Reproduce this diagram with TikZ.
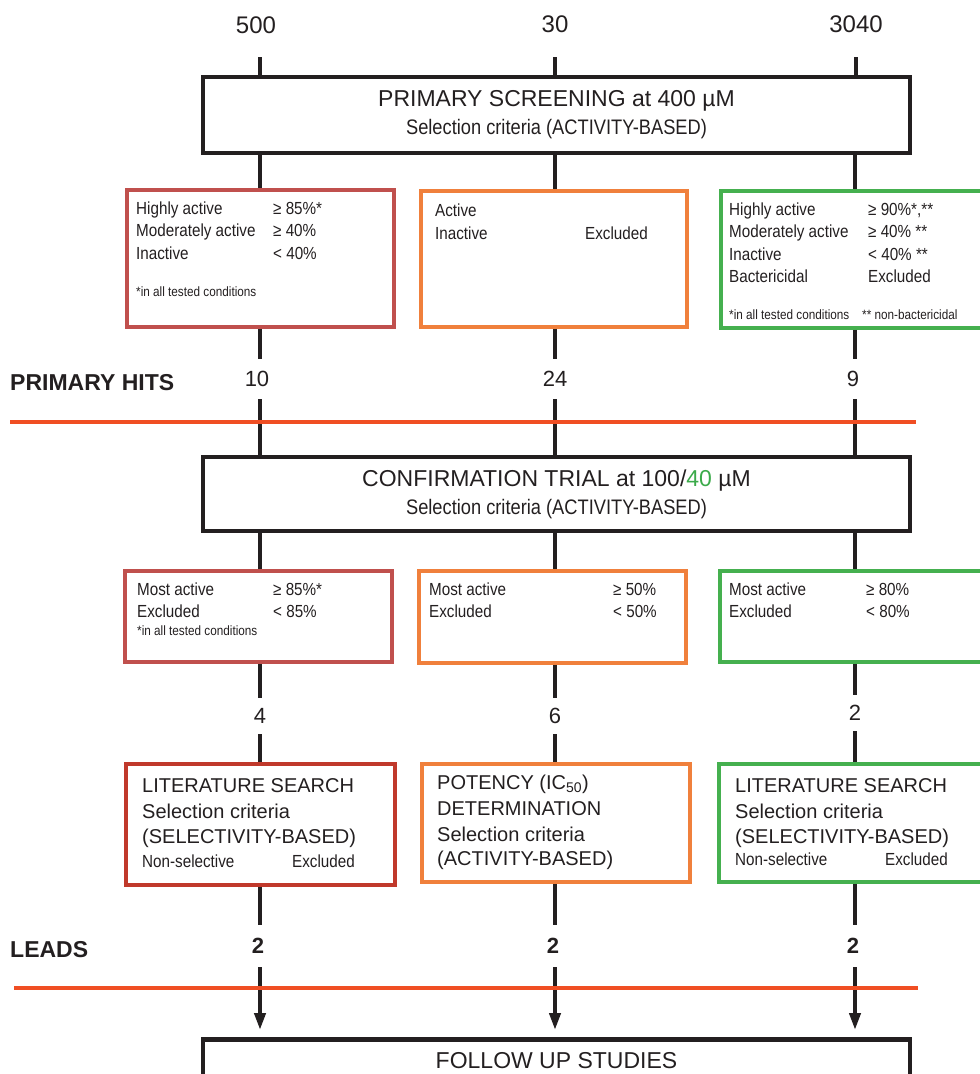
\documentclass[tikz,border=0pt]{standalone}
\usepackage{fontspec}
\setmainfont{Liberation Sans}
\newfontfamily\narrow[FakeStretch=0.87]{Liberation Sans}
\usetikzlibrary{arrows.meta}
\definecolor{ink}{HTML}{231F20}
\definecolor{cred}{HTML}{C0504D}
\definecolor{cdred}{HTML}{C0392B}
\definecolor{corange}{HTML}{F0803C}
\definecolor{cgreen}{HTML}{45B04F}
\definecolor{cline}{HTML}{F04E23}
\definecolor{tgreen}{HTML}{3BAA4A}
\newcommand{\bxfont}{\narrow\fontsize{17.5}{22.5}\selectfont}
\newcommand{\smfont}{\narrow\fontsize{13.5}{16}\selectfont}
\newcommand{\ttlfont}{\fontsize{23}{28}\selectfont}
\newcommand{\hdfont}{\fontsize{20}{25}\selectfont}
\begin{document}
\begin{tikzpicture}[x=1pt,y=-1pt,
  every node/.style={text=ink, inner sep=0pt},
  bigbox/.style={draw=ink, line width=4.5pt, minimum width=707pt, align=center, font=\ttlfont},
  cbox/.style={line width=3.5pt},
  vline/.style={draw=ink, line width=4pt},
  hline/.style={draw=cline, line width=4pt},
  num/.style={font=\fontsize{22}{26}\selectfont, minimum height=40pt},
  bnum/.style={font=\fontsize{22}{26}\selectfont\bfseries, minimum height=42pt},
  topnum/.style={font=\fontsize{24}{28}\selectfont},
  lbl/.style={font=\fontsize{23}{26}\selectfont\bfseries, anchor=west},
  bt/.style={font=\bxfont, anchor=base west},
  st/.style={font=\smfont, anchor=base west},
  ht/.style={font=\hdfont, anchor=base west},
  arr/.style={vline, -{Triangle[length=17pt,width=11pt]}, shorten >=7pt}
]
\useasboundingbox (0,0) rectangle (980,1074);
\clip (0,0) rectangle (980,1074);

% column coordinates
\coordinate (t1) at (260,57);
\coordinate (t2) at (555,57);
\coordinate (t3) at (856,57);

% top numbers
\node[topnum] (n1) at (256,25) {500};
\node[topnum] (n2) at (555,24) {30};
\node[topnum] (n3) at (856,24) {3040};

% primary screening box
\node[bigbox, minimum height=76pt] (ps) at (556.5,115)
  {PRIMARY SCREENING at 400 µM\\{\narrow\fontsize{21}{28}\selectfont Selection criteria (ACTIVITY-BASED)}};

% row 1 boxes
\node[cbox, draw=cred, minimum width=267pt, minimum height=137pt] (a1) at (260.5,258.5) {};
\node[cbox, draw=corange, minimum width=266pt, minimum height=136pt] (b1) at (554,259) {};
\node[cbox, draw=cgreen, minimum width=264pt, minimum height=137pt] (c1) at (853,259.5) {};

\node[bt] (a1l1) at (136,214) {\makebox[137pt][l]{Highly active}≥ 85\%*};
\node[bt] (a1l2) at (136,236.5) {\makebox[137pt][l]{Moderately active}≥ 40\%};
\node[bt] (a1l3) at (136,259) {\makebox[137pt][l]{Inactive}< 40\%};
\node[st] (a1n) at (136,296) {*in all tested conditions};

\node[bt] (b1l1) at (435,216) {Active};
\node[bt] (b1l2) at (435,239) {\makebox[150pt][l]{Inactive}Excluded};

\node[bt] (c1l1) at (729,215) {\makebox[139pt][l]{Highly active}≥ 90\%*,**};
\node[bt] (c1l2) at (729,237.5) {\makebox[139pt][l]{Moderately active}≥ 40\% **};
\node[bt] (c1l3) at (729,260) {\makebox[139pt][l]{Inactive}< 40\% **};
\node[bt] (c1l4) at (729,282.5) {\makebox[139pt][l]{Bactericidal}Excluded};
\node[st] (c1n) at (729,319) {\makebox[133pt][l]{*in all tested conditions}** non-bactericidal};

% primary hits
\node[lbl] (ph) at (10,383) {PRIMARY HITS};
\node[num] (h1) at (257,379) {10};
\node[num] (h2) at (555,379) {24};
\node[num] (h3) at (853,379) {9};

% confirmation trial box
\node[bigbox, minimum height=74pt] (ct) at (556.5,494)
  {CONFIRMATION TRIAL at 100/{\color{tgreen}40} µM\\{\narrow\fontsize{21}{29}\selectfont Selection criteria (ACTIVITY-BASED)}};

% row 2 boxes
\node[cbox, draw=cred, minimum width=267pt, minimum height=91pt] (a2) at (258.5,616.5) {};
\node[cbox, draw=corange, minimum width=267pt, minimum height=92pt] (b2) at (552.5,617) {};
\node[cbox, draw=cgreen, minimum width=265pt, minimum height=91pt] (c2) at (852.5,616.5) {};

\node[bt] (a2l1) at (137,595) {\makebox[136pt][l]{Most active}≥ 85\%*};
\node[bt] (a2l2) at (137,617) {\makebox[136pt][l]{Excluded}< 85\%};
\node[st] (a2n) at (137,635) {*in all tested conditions};

\node[bt] (b2l1) at (429,595) {\makebox[184pt][l]{Most active}≥ 50\%};
\node[bt] (b2l2) at (429,617) {\makebox[184pt][l]{Excluded}< 50\%};

\node[bt] (c2l1) at (729,595) {\makebox[137pt][l]{Most active}≥ 80\%};
\node[bt] (c2l2) at (729,617) {\makebox[137pt][l]{Excluded}< 80\%};

% row 2 numbers
\node[num, minimum height=36pt] (m1) at (260,716) {4};
\node[num, minimum height=36pt] (m2) at (555,716) {6};
\node[num, minimum height=36pt] (m3) at (855,713) {2};

% row 3 boxes
\node[cbox, draw=cdred, minimum width=269pt, minimum height=121pt] (a3) at (260.5,824.5) {};
\node[cbox, draw=corange, minimum width=268pt, minimum height=118pt] (b3) at (556,823) {};
\node[cbox, draw=cgreen, minimum width=266pt, minimum height=118pt] (c3) at (852,823) {};

\node[ht] (a3l1) at (142,792) {LITERATURE SEARCH};
\node[ht] (a3l2) at (142,818) {Selection criteria};
\node[ht] (a3l3) at (142,843) {(SELECTIVITY-BASED)};
\node[bt] (a3l4) at (142,867) {\makebox[150pt][l]{Non-selective}Excluded};

\node[ht] (b3l1) at (437,789) {POTENCY (IC\textsubscript{50})};
\node[ht] (b3l2) at (437,815) {DETERMINATION};
\node[ht] (b3l3) at (437,841) {Selection criteria};
\node[ht] (b3l4) at (437,865) {(ACTIVITY-BASED)};

\node[ht] (c3l1) at (735,792) {LITERATURE SEARCH};
\node[ht] (c3l2) at (735,818) {Selection criteria};
\node[ht] (c3l3) at (735,843) {(SELECTIVITY-BASED)};
\node[bt] (c3l4) at (735,865) {\makebox[150pt][l]{Non-selective}Excluded};

% leads
\node[lbl] (ld) at (10,950) {LEADS};
\node[bnum] (l1) at (258,946) {2};
\node[bnum] (l2) at (553,946) {2};
\node[bnum] (l3) at (853,946) {2};

% follow up box
\node[bigbox, anchor=north, inner ysep=13pt] (fu) at (556.5,1037) {FOLLOW UP STUDIES};

% column x references
\coordinate (x1) at (260,0);
\coordinate (x2) at (555,0);
\coordinate (x3) at (855,0);

% vertical connectors
\draw[vline] (t1) -- (ps.north -| t1);
\draw[vline] (t2) -- (ps.north -| t2);
\draw[vline] (t3) -- (ps.north -| t3);

\foreach \c/\a/\h in {x1/a1/h1, x2/b1/h2, x3/c1/h3}{
  \draw[vline] (ps.south -| \c) -- (\a.north -| \c);
  \draw[vline] (\a.south -| \c) -- (\h.north -| \c);
  \draw[vline] (\h.south -| \c) -- (ct.north -| \c);
}
\foreach \c/\a/\m/\b/\l in {x1/a2/m1/a3/l1, x2/b2/m2/b3/l2, x3/c2/m3/c3/l3}{
  \draw[vline] (ct.south -| \c) -- (\a.north -| \c);
  \draw[vline] (\a.south -| \c) -- (\m.north -| \c);
  \draw[vline] (\m.south -| \c) -- (\b.north -| \c);
  \draw[vline] (\b.south -| \c) -- (\l.north -| \c);
  \draw[arr] (\l.south -| \c) -- (fu.north -| \c);
}

% orange separator lines
\coordinate (s1a) at (10,422);
\coordinate (s1b) at (916,422);
\coordinate (s2a) at (14,988);
\coordinate (s2b) at (918,988);
\draw[hline] (s1a) -- (s1b);
\draw[hline] (s2a) -- (s2b);
\end{tikzpicture}
\end{document}
